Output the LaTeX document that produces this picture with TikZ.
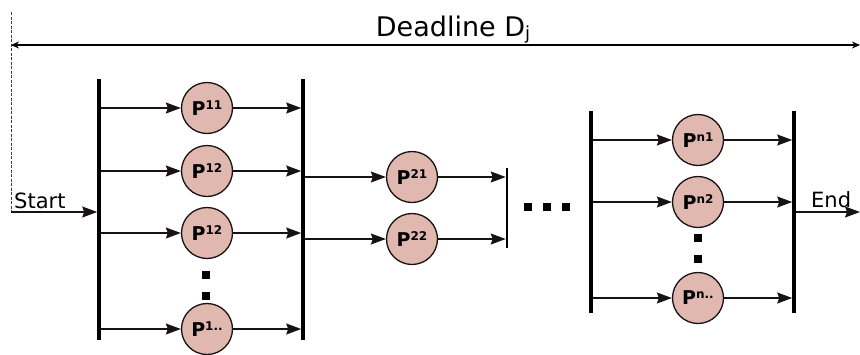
\documentclass[tikz,border=0pt]{standalone}
\usepackage{fontspec}
\setmainfont{DejaVu Sans}
\usetikzlibrary{arrows.meta}
\definecolor{procfill}{RGB}{224,184,176}
\definecolor{linecol}{RGB}{25,18,18}
\newcommand{\proclabel}[1]{\fontsize{19}{19}\selectfont\bfseries P\raisebox{6pt}{\fontsize{12}{12}\selectfont #1}}
\tikzset{
  proc/.style={circle, draw=linecol, line width=1.3pt, fill=procfill, minimum size=51pt, inner sep=0pt},
  barnode/.style={fill=black, inner sep=0pt, minimum width=3.2pt},
  thinbar/.style={fill=black, inner sep=0pt, minimum width=2.2pt},
  arr/.style={draw=linecol, line width=1.2pt, -{Stealth[length=15pt,width=11pt,inset=2pt]}},
  dl/.style={draw=black, line width=1.4pt, {Stealth[length=8pt,width=7pt]}-{Stealth[length=8pt,width=7pt]}},
  dotbox/.style={fill=black, inner sep=0pt, minimum size=7.5pt},
  lbl/.style={inner sep=0pt, anchor=base west, font=\fontsize{21}{21}\selectfont}
}
\begin{document}
\begin{tikzpicture}[x=1pt,y=-1pt]
\useasboundingbox (0,0) rectangle (860,354);
% deadline
\coordinate (dlL) at (11,45);
\coordinate (dlR) at (860,45);
\draw[dl] (dlL) -- (dlR);
\node[inner sep=0pt, anchor=base, font=\fontsize{27}{27}\selectfont] (dltext) at (453,36) {Deadline D\raisebox{-3pt}{\fontsize{18}{18}\selectfont j}};
% bars
\node[barnode, minimum height=261pt] (b1) at (99,209.5) {};
\node[barnode, minimum height=261pt] (b2) at (303,209.5) {};
\node[thinbar, minimum height=80pt] (b3) at (507,208) {};
\node[barnode, minimum height=202pt] (b4) at (591,212) {};
\node[barnode, minimum height=202pt] (b5) at (794,212) {};
% start
\coordinate (dtop) at (11,12);
\coordinate (scorner) at (11,212);
\draw[black!75, dash pattern=on 3pt off 1.5pt, line width=1pt] (dtop) -- (scorner);
\draw[arr] (scorner) -- (b1.west |- scorner);
\node[lbl] (start) at (14,208) {Start};
% group 1
\node[proc] (c11) at (207,108) {\proclabel{11}};
\node[proc] (c12) at (207,171) {\proclabel{12}};
\node[proc] (c13) at (207,233) {\proclabel{12}};
\node[proc] (c1n) at (207,329) {\proclabel{1..}};
\foreach \c in {c11,c12,c13,c1n}{
  \draw[arr] (b1.east |- \c) -- (\c);
  \draw[arr] (\c) -- (b2.west |- \c);
}
\node[dotbox] (d11) at (206,275) {};
\node[dotbox] (d12) at (206,296) {};
% group 2
\node[proc] (c21) at (412,177) {\proclabel{21}};
\node[proc] (c22) at (412,239) {\proclabel{22}};
\foreach \c in {c21,c22}{
  \draw[arr] (b2.east |- \c) -- (\c);
  \draw[arr] (\c) -- (b3.west |- \c);
}
\node[dotbox, minimum size=8pt] (h1) at (528,207) {};
\node[dotbox, minimum size=8pt] (h2) at (547,207) {};
\node[dotbox, minimum size=8pt] (h3) at (566,207) {};
% group n
\node[proc] (cn1) at (698,140) {\proclabel{n1}};
\node[proc] (cn2) at (698,202) {\proclabel{n2}};
\node[proc] (cnn) at (698,298) {\proclabel{n..}};
\foreach \c in {cn1,cn2,cnn}{
  \draw[arr] (b4.east |- \c) -- (\c);
  \draw[arr] (\c) -- (b5.west |- \c);
}
\node[dotbox] (dn1) at (698,238) {};
\node[dotbox] (dn2) at (698,259) {};
% end
\coordinate (endpt) at (860,212);
\draw[arr] (b5.east |- endpt) -- (endpt);
\node[lbl] (endl) at (811,207) {End};
\end{tikzpicture}
\end{document}
